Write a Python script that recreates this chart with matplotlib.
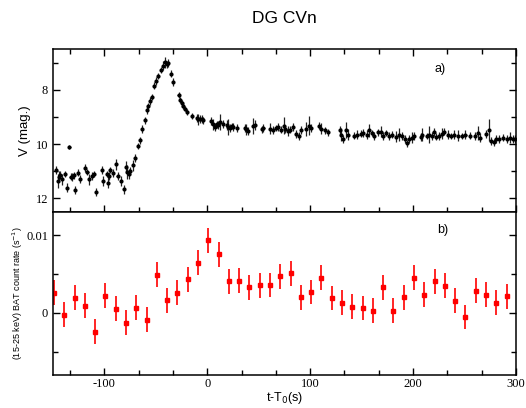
import matplotlib
matplotlib.use("Agg")
import matplotlib.pyplot as plt
from matplotlib.ticker import MultipleLocator, AutoMinorLocator

plt.rcParams["axes.unicode_minus"] = False

# a) optical V-band light curve
t_opt = [-147, -145.6, -144.5, -143, -141, -138, -136, -134, -133, -131.5,
         -130, -128.7, -126, -123.6, -118.8, -116.5, -114.6, -112, -110.6, -108.4,
         -102, -101, -97.6, -96.7, -96, -95, -91.8, -89, -87.3, -84,
         -81, -79, -77.6, -76.4, -75, -72, -70, -67, -65, -63.8,
         -61, -58.6, -57.3, -55.3, -54, -52, -50, -47.7, -45, -43.5,
         -41.5, -39.6, -38.6, -35.6, -33.7, -28, -26.5, -25, -23.4, -21.5,
         -20.2, -15.3, -10.4, -8.8, -7.2, -5.6, -4, 4, 5.7, 7.3,
         9, 10.6, 12, 15.6, 18.8, 20.4, 22, 23.7, 25, 29,
         36.7, 38, 40, 44.7, 46.3, 53, 54.6, 61, 64, 66.5,
         69, 72, 74.4, 76, 78.5, 80.8, 83.3, 86, 89, 91.5,
         96.3, 99, 101, 108.7, 111, 114, 117, 128.6, 130, 131.8,
         135, 136.5, 143, 146, 149, 151.5, 155, 157.5, 160, 162.5,
         165.5, 169, 171, 173.7, 177, 180, 183, 186.4, 189.6, 192,
         194.5, 196, 198.6, 201, 207.5, 209, 214, 216, 218, 220,
         222, 225, 228, 230, 234, 237, 240, 243.7, 248, 251,
         255, 260, 263, 265, 271, 274, 276, 278.5, 281, 283.7,
         287.5, 291, 294, 297, 299]
v_mag = [10.96, 11.36, 11.2, 11.15, 11.3, 11.1, 11.6, 10.1, 11.2, 11.2,
         11.15, 11.7, 11.05, 11.3, 10.87, 11.02, 11.3, 11.17, 11.1, 11.75,
         10.95, 11.36, 11.1, 11.43, 11.17, 10.96, 11.05, 10.74, 11.17, 11.36,
         11.67, 10.83, 11.02, 11.1, 10.99, 10.78, 10.5, 10.07, 9.86, 9.46,
         9.13, 8.76, 8.6, 8.4, 8.26, 7.85, 7.69, 7.5, 7.28, 7.11,
         6.99, 7.07, 7.03, 7.41, 7.72, 8.2, 8.38, 8.5, 8.6, 8.7,
         8.82, 8.97, 9.03, 9.09, 9.07, 9.09, 9.13, 9.15, 9.27, 9.36,
         9.27, 9.3, 9.2, 9.27, 9.3, 9.36, 9.4, 9.33, 9.36, 9.4,
         9.4, 9.46, 9.52, 9.33, 9.3, 9.46, 9.4, 9.44, 9.47, 9.4,
         9.37, 9.47, 9.32, 9.44, 9.52, 9.47, 9.37, 9.62, 9.71, 9.47,
         9.44, 9.32, 9.4, 9.32, 9.44, 9.5, 9.57, 9.5, 9.65, 9.8,
         9.47, 9.65, 9.69, 9.65, 9.62, 9.6, 9.65, 9.5, 9.6, 9.69,
         9.57, 9.54, 9.69, 9.6, 9.71, 9.65, 9.73, 9.65, 9.71, 9.8,
         9.97, 9.82, 9.76, 9.71, 9.73, 9.65, 9.71, 9.65, 9.71, 9.54,
         9.73, 9.69, 9.62, 9.54, 9.65, 9.71, 9.65, 9.69, 9.71, 9.65,
         9.69, 9.71, 9.6, 9.76, 9.62, 9.47, 9.89, 9.94, 9.82, 9.8,
         9.76, 9.8, 9.76, 9.82, 9.82]
v_err = [0.15, 0.25, 0.2, 0.15, 0.2, 0.12, 0.15, 0.08, 0.12, 0.15,
         0.12, 0.15, 0.12, 0.15, 0.15, 0.12, 0.2, 0.15, 0.12, 0.15,
         0.15, 0.2, 0.12, 0.2, 0.15, 0.12, 0.15, 0.2, 0.15, 0.2,
         0.15, 0.2, 0.25, 0.2, 0.15, 0.2, 0.15, 0.12, 0.12, 0.15,
         0.12, 0.15, 0.12, 0.15, 0.12, 0.12, 0.15, 0.12, 0.12, 0.15,
         0.2, 0.12, 0.15, 0.12, 0.15, 0.12, 0.12, 0.12, 0.12, 0.1,
         0.12, 0.12, 0.15, 0.2, 0.15, 0.15, 0.12, 0.15, 0.2, 0.15,
         0.12, 0.15, 0.3, 0.15, 0.2, 0.3, 0.15, 0.12, 0.15, 0.15,
         0.15, 0.2, 0.15, 0.3, 0.2, 0.12, 0.15, 0.2, 0.15, 0.12,
         0.15, 0.12, 0.3, 0.15, 0.2, 0.12, 0.15, 0.15, 0.15, 0.15,
         0.25, 0.35, 0.15, 0.12, 0.2, 0.12, 0.12, 0.15, 0.25, 0.15,
         0.3, 0.2, 0.12, 0.15, 0.12, 0.15, 0.15, 0.25, 0.12, 0.15,
         0.12, 0.2, 0.15, 0.12, 0.15, 0.12, 0.2, 0.25, 0.15, 0.15,
         0.12, 0.15, 0.2, 0.15, 0.15, 0.25, 0.12, 0.3, 0.15, 0.15,
         0.12, 0.15, 0.2, 0.12, 0.15, 0.12, 0.15, 0.2, 0.12, 0.15,
         0.12, 0.15, 0.25, 0.15, 0.15, 0.4, 0.15, 0.12, 0.15, 0.15,
         0.12, 0.15, 0.2, 0.15, 0.15]

# b) Swift/BAT 15-25 keV count rate
t_bat = [-149, -139, -129, -119, -109, -99, -89, -79, -69, -59,
         -49, -39, -29, -19, -9, 1, 11, 21, 31, 41,
         51, 61, 71, 81, 91, 101, 111, 121, 131, 141,
         151, 161, 171, 181, 191, 201, 211, 221, 231, 241,
         251, 261, 271, 281, 291]
bat_rate = [0.00258, -0.00022, 0.00197, 0.00094, -0.00245, 0.00219, 0.00052, -0.00129, 0.00068, -0.00086,
            0.00494, 0.00163, 0.00262, 0.00433, 0.00648, 0.00936, 0.00755, 0.00408, 0.00416, 0.0033,
            0.00356, 0.0036, 0.00472, 0.0051, 0.00201, 0.0027, 0.00455, 0.00193, 0.00133, 0.00081,
            0.00064, 0.0003, 0.0033, 0.0003, 0.00201, 0.00451, 0.00232, 0.00408, 0.00352, 0.00155,
            -0.00052, 0.00287, 0.00232, 0.00129, 0.00214]
bat_err = [0.0016, 0.0016, 0.0016, 0.0016, 0.0016, 0.0016, 0.0016, 0.0016, 0.0016, 0.0016,
           0.0016, 0.0016, 0.0016, 0.0016, 0.0016, 0.0016, 0.0016, 0.0016, 0.0016, 0.0016,
           0.0016, 0.0016, 0.0016, 0.0016, 0.0016, 0.0016, 0.0016, 0.0016, 0.0016, 0.0016,
           0.0016, 0.0016, 0.0016, 0.0016, 0.0016, 0.0016, 0.0016, 0.0016, 0.0016, 0.0016,
           0.0016, 0.0016, 0.0016, 0.0016, 0.0016]

serif = "Liberation Serif"
sans = "Liberation Sans"

fig = plt.figure(figsize=(5.26, 4.08), dpi=100)
ax1 = fig.add_axes([0.1008, 0.4804, 0.880, 0.3995])
ax2 = fig.add_axes([0.1008, 0.0809, 0.880, 0.3995], sharex=ax1)

# top panel
ax1.errorbar(t_opt, v_mag, yerr=v_err, xerr=1.0, fmt="o", ms=2.0, color="black",
             ecolor="#222222", elinewidth=0.9, capsize=0)
ax1.set_ylim(12.5, 6.5)
ax1.yaxis.set_major_locator(MultipleLocator(2))
ax1.yaxis.set_minor_locator(AutoMinorLocator(2))
ax1.set_ylabel("V (mag.)", family=sans, fontsize=9.5, labelpad=3)
ax1.text(0.825, 0.88, "a)", transform=ax1.transAxes, family=sans, fontsize=9,
         ha="left", va="center")
ax1.tick_params(labelbottom=False)

# bottom panel
ax2.errorbar(t_bat, bat_rate, yerr=bat_err, fmt="s", ms=2.4, color="red",
             ecolor="red", elinewidth=1.2, capsize=0)
ax2.set_ylim(-0.008, 0.013)
ax2.set_yticks([0, 0.01])
ax2.set_yticklabels(["0", "0.01"])
ax2.yaxis.set_minor_locator(MultipleLocator(0.005))
ax2.set_ylabel("(15-25 keV) BAT count rate (s$^{-1}$)", family=sans, fontsize=6.5, labelpad=1)
ax2.text(0.83, 0.89, "b)", transform=ax2.transAxes, family=sans, fontsize=9,
         ha="left", va="center")
ax2.set_xlim(-150, 300)
ax2.xaxis.set_major_locator(MultipleLocator(100))
ax2.xaxis.set_minor_locator(AutoMinorLocator(3))
ax2.set_xlabel("t-T$_0$(s)", family=sans, fontsize=9, labelpad=0)

for ax in (ax1, ax2):
    for sp in ax.spines.values():
        sp.set_linewidth(1.1)
    ax.tick_params(which="both", direction="in", right=True, width=1.0)
    ax.tick_params(which="major", length=5)
    ax.tick_params(which="minor", length=3.5)
    ax.tick_params(axis="x", pad=2.5)
    for lab in ax.get_xticklabels() + ax.get_yticklabels():
        lab.set_family(serif)
        lab.set_fontsize(9)
ax1.tick_params(which="both", top=True)

fig.text(0.541, 0.955, "DG CVn", family=sans, fontsize=12.5, ha="center", va="center")

fig.savefig("out.png", dpi=100)
